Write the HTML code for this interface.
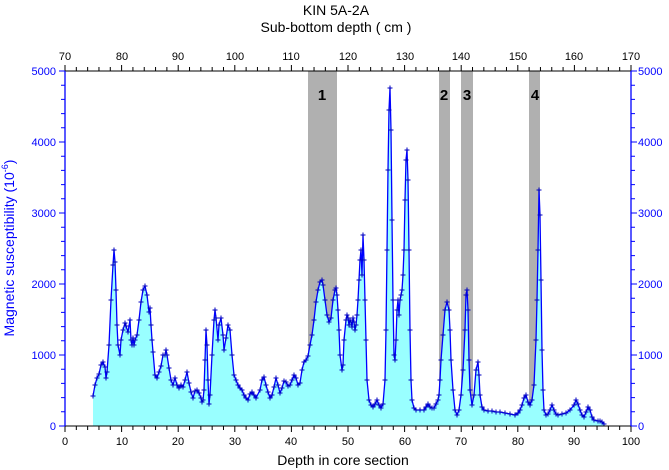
<!DOCTYPE html>
<html><head><meta charset="utf-8"><style>
body{margin:0;background:#fff}
svg{display:block;font-family:"Liberation Sans",Arial,sans-serif}
</style></head><body>
<svg id="s" width="669" height="470" viewBox="0 0 669 470" xmlns="http://www.w3.org/2000/svg">
<defs><marker id="m" markerWidth="6" markerHeight="6" refX="3" refY="3" markerUnits="userSpaceOnUse"><path d="M0.5 3H5.5M3 0.5V5.5" stroke="#0000c0" stroke-width="1"/></marker></defs>
<g fill="#b0b0b0">
<rect x="308" y="71" width="29" height="355"/>
<rect x="439" y="71" width="11" height="355"/>
<rect x="461" y="71" width="12" height="355"/>
<rect x="529" y="71" width="11" height="355"/>
</g>
<g font-size="15" font-weight="bold" text-anchor="middle" fill="#000">
<text x="322" y="100">1</text><text x="444" y="100">2</text><text x="467" y="100">3</text><text x="535" y="100">4</text>
</g>
<polygon id="fill" fill="#99ffff" points=""/>
<polyline id="line" fill="none" stroke="#0000ff" stroke-width="1.3" marker-start="url(#m)" marker-mid="url(#m)" marker-end="url(#m)" points=""/>
<path id="ticks" stroke="#000" fill="none" stroke-width="1"/>
<path id="ticksb" stroke="#0000ff" fill="none" stroke-width="1"/>
<line x1="65" y1="71" x2="631" y2="71" stroke="#000"/>
<line x1="65" y1="426" x2="631" y2="426" stroke="#000"/>
<line x1="65" y1="71" x2="65" y2="426" stroke="#0000ff" stroke-width="1.3"/>
<line x1="631" y1="71" x2="631" y2="426" stroke="#0000ff" stroke-width="1.3"/>
<g font-size="12" text-anchor="middle" fill="#000">
<text x="336" y="15" font-size="14">KIN 5A-2A</text>
<text x="336" y="32" font-size="14">Sub-bottom depth ( cm )</text>
<text x="65" y="60" font-size="11">70</text><text x="122" y="60" font-size="11">80</text><text x="178" y="60" font-size="11">90</text><text x="235" y="60" font-size="11">100</text><text x="291" y="60" font-size="11">110</text><text x="348" y="60" font-size="11">120</text><text x="405" y="60" font-size="11">130</text><text x="461" y="60" font-size="11">140</text><text x="518" y="60" font-size="11">150</text><text x="574" y="60" font-size="11">160</text><text x="631" y="60" font-size="11">170</text>
<text x="65" y="445" font-size="11">0</text><text x="122" y="445" font-size="11">10</text><text x="178" y="445" font-size="11">20</text><text x="235" y="445" font-size="11">30</text><text x="291" y="445" font-size="11">40</text><text x="348" y="445" font-size="11">50</text><text x="405" y="445" font-size="11">60</text><text x="461" y="445" font-size="11">70</text><text x="518" y="445" font-size="11">80</text><text x="574" y="445" font-size="11">90</text><text x="631" y="445" font-size="11">100</text>
<text x="343" y="465" font-size="14">Depth in core section</text>
</g>
<g font-size="11" fill="#0000ff" text-anchor="end">
<text x="56" y="75">5000</text><text x="56" y="146">4000</text><text x="56" y="217">3000</text><text x="56" y="288">2000</text><text x="56" y="359">1000</text><text x="56" y="430">0</text>
</g>
<g font-size="11" fill="#0000ff" text-anchor="start">
<text x="638" y="75">5000</text><text x="638" y="146">4000</text><text x="638" y="217">3000</text><text x="638" y="288">2000</text><text x="638" y="359">1000</text><text x="638" y="430">0</text>
</g>
<text transform="translate(14,248) rotate(-90)" font-size="14" fill="#0000ff" text-anchor="middle">Magnetic susceptibility (10<tspan font-size="9" dy="-6">-6</tspan><tspan dy="6">)</tspan></text>
</svg>
<script>
var P=[[93,396],[95,385],[97,378],[99,374],[101,365],[103,362],[105,367],[106,378],[107,372],[109,345],[111,300],[113,265],[114,250],[115,262],[116,290],[117,325],[118,345],[120,355],[121,340],[123,330],[125,323],[126,326],[128,332],[130,320],[131,340],[132,345],[133,338],[134,345],[135,340],[137,335],[139,320],[141,302],[143,290],[145,286],[147,295],[149,312],[150,308],[151,325],[152,340],[153,352],[155,375],[157,378],[159,372],[161,366],[163,355],[165,355],[166,350],[167,355],[169,368],[171,380],[173,385],[175,378],[177,385],[179,388],[181,385],[183,387],[185,380],[187,372],[189,383],[191,392],[193,398],[195,391],[197,390],[199,393],[201,398],[202,402],[203,400],[204,390],[205,360],[206,330],[207,345],[208,380],[209,404],[210,395],[212,355],[214,320],[215,310],[216,318],[218,340],[219,325],[221,318],[223,335],[224,350],[226,338],[228,325],[230,330],[232,355],[234,375],[236,380],[238,385],[240,388],[242,390],[244,395],[246,398],[248,400],[250,394],[252,392],[254,395],[256,398],[260,390],[262,380],[264,377],[266,385],[268,392],[270,398],[272,395],[274,387],[276,378],[278,385],[280,393],[282,388],[284,381],[286,382],[288,386],[290,385],[292,380],[294,375],[296,378],[298,385],[300,383],[302,370],[304,362],[306,360],[308,356],[310,345],[312,335],[314,320],[316,302],[318,290],[320,282],[322,280],[323,285],[325,300],[327,315],[329,322],[331,318],[333,300],[335,290],[336,288],[337,295],[338,310],[339,330],[340,355],[342,370],[343,365],[344,340],[346,320],[347,315],[348,318],[349,325],[350,320],[351,322],[352,327],[353,318],[354,322],[355,330],[356,325],[357,315],[358,300],[359,280],[360,260],[361,250],[362,275],[363,235],[364,260],[365,300],[366,340],[367,380],[369,400],[371,405],[373,407],[375,404],[377,400],[379,405],[381,408],[383,404],[385,380],[386,330],[387,250],[388,170],[389,110],[390,88],[391,130],[392,220],[393,300],[394,355],[395,360],[396,340],[397,310],[398,300],[399,315],[400,300],[401,295],[402,290],[403,275],[404,250],[405,200],[406,160],[407,150],[408,180],[409,250],[410,330],[411,380],[412,400],[414,408],[416,410],[420,410],[424,410],[426,407],[428,404],[430,407],[432,408],[434,408],[436,404],[438,400],[439,395],[440,380],[441,360],[443,335],[445,310],[447,302],[449,310],[450,330],[451,360],[453,390],[455,410],[457,415],[459,410],[461,395],[463,370],[465,330],[466,295],[467,290],[468,310],[469,360],[470,390],[472,405],[474,395],[476,370],[478,362],[479,375],[480,395],[482,407],[484,410],[488,411],[492,411],[496,412],[500,412],[505,413],[510,414],[515,415],[518,413],[520,410],[522,405],[524,398],[526,395],[528,402],[530,405],[532,400],[534,385],[536,340],[537,300],[538,250],[539,190],[540,215],[541,280],[542,350],[543,390],[544,410],[546,415],[548,414],[550,410],[552,405],[554,410],[556,414],[558,415],[562,414],[566,413],[570,410],[574,405],[576,400],[578,404],[580,410],[582,415],[584,417],[586,412],[588,407],[590,410],[592,417],[594,420],[598,421],[600,421],[602,422],[604,424]];
var s=P.map(function(p){return p.join(',')}).join(' ');
document.getElementById('line').setAttribute('points',s);
document.getElementById('fill').setAttribute('points','93,426 '+s+' 604,426');
var d='',b='';
for(var i=0;i<=50;i++){var x=65+i*11.32,L=(i%5==0)?6:4;d+='M'+x+' 426v'+L+'M'+x+' 71v-'+L;}
for(var j=0;j<=25;j++){var y=426-j*14.2,L=(j%5==0)?6:4;b+='M65 '+y+'h-'+L+'M631 '+y+'h'+L;}
document.getElementById('ticks').setAttribute('d',d);
document.getElementById('ticksb').setAttribute('d',b);
</script>
</body></html>
